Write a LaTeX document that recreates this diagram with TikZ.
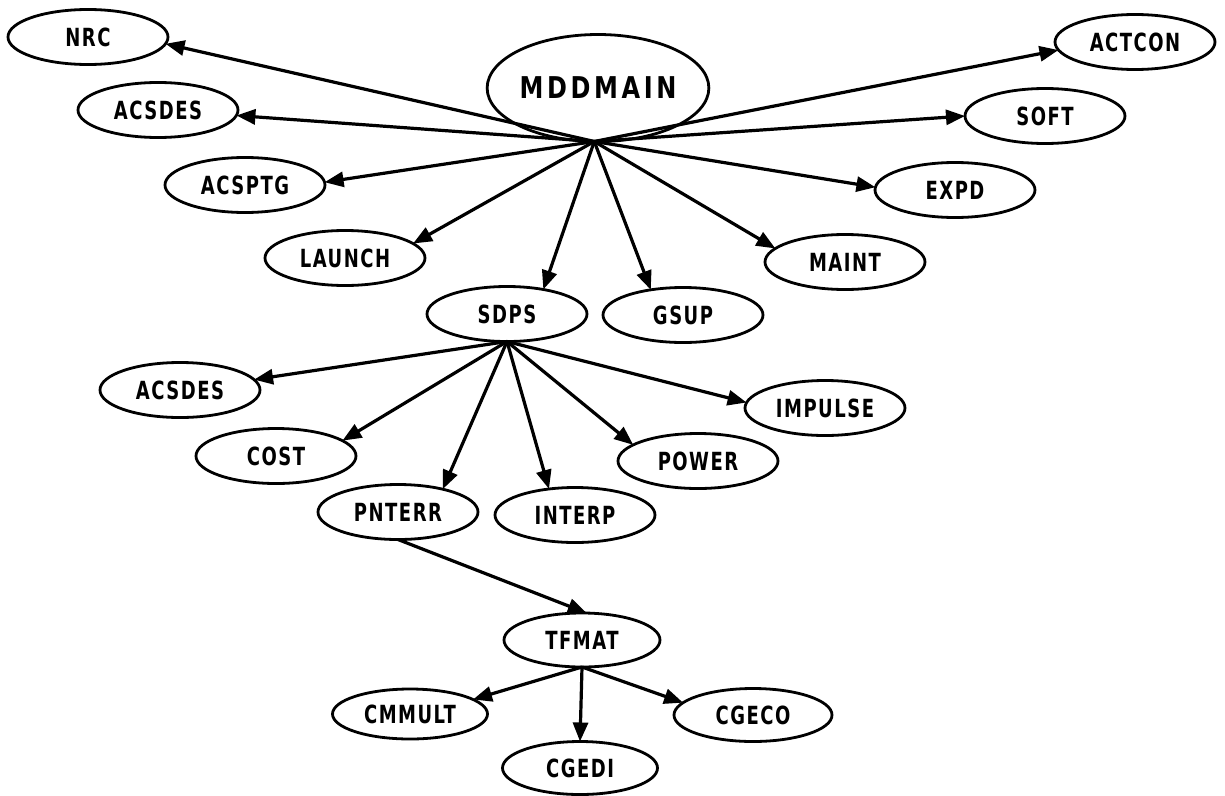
\documentclass[tikz,border=0pt]{standalone}
\usepackage{fontspec}
\newfontfamily\lblfont{DejaVu Sans}[FakeStretch=0.72,LetterSpace=6]
\newfontfamily\bigfont{DejaVu Sans}[FakeStretch=0.8,LetterSpace=12]
\usetikzlibrary{shapes.geometric,arrows.meta}
\begin{document}
\begin{tikzpicture}[x=1pt,y=-1pt,
  box/.style={ellipse,draw,line width=2.8pt,minimum width=160pt,minimum height=55pt,inner sep=0pt,outer sep=0pt,font=\lblfont\bfseries\fontsize{25}{27}\selectfont},
  bigbox/.style={box,minimum width=220pt,minimum height=107pt,font=\bigfont\bfseries\fontsize{30}{32}\selectfont},
  link/.style={line width=3.2pt,-{Triangle[length=19pt,width=15pt]}}]
\useasboundingbox (0,0) rectangle (1225,795);
% nodes
\node[bigbox] (mdd) at (598,88) {MDDMAIN};
\node[box] (nrc) at (88,37) {NRC};
\node[box] (acsdesA) at (158,110) {ACSDES};
\node[box] (acsptg) at (245,185) {ACSPTG};
\node[box] (launch) at (345,258) {LAUNCH};
\node[box] (sdps) at (507,314) {SDPS};
\node[box] (gsup) at (683,315) {GSUP};
\node[box] (maint) at (845,262) {MAINT};
\node[box] (expd) at (955,190) {EXPD};
\node[box] (soft) at (1045,116) {SOFT};
\node[box] (actcon) at (1135,42) {ACTCON};
\node[box] (acsdesB) at (180,390) {ACSDES};
\node[box] (cost) at (276,456) {COST};
\node[box] (pnterr) at (398,512) {PNTERR};
\node[box] (interp) at (575,515) {INTERP};
\node[box] (power) at (698,461) {POWER};
\node[box] (impulse) at (825,408) {IMPULSE};
\node[box,minimum width=156pt,minimum height=54pt] (tfmat) at (582,640) {TFMAT};
\node[box,minimum width=155pt,minimum height=50pt] (cmmult) at (410,714) {CMMULT};
\node[box,minimum width=155pt,minimum height=53pt] (cgedi) at (580,768) {CGEDI};
\node[box,minimum width=158pt,minimum height=53pt] (cgeco) at (753,715) {CGECO};
% connectors from MDDMAIN
\draw[link] (mdd.266) -- (nrc.-5);
\draw[link] (mdd.266) -- (acsdesA.-4);
\draw[link] (mdd.266) -- (acsptg.2);
\draw[link] (mdd.266) -- (launch.12);
\draw[link] (mdd.266) -- (sdps.34);
\draw[link] (mdd.266) -- (gsup.142);
\draw[link] (mdd.266) -- (maint.169);
\draw[link] (mdd.266) -- (expd.178);
\draw[link] (mdd.266) -- (soft.180);
\draw[link] (mdd.266) -- (actcon.186);
% connectors from SDPS
\draw[link] (sdps.south) -- (acsdesB.8);
\draw[link] (sdps.south) -- (cost.13);
\draw[link] (sdps.south) -- (pnterr.27);
\draw[link] (sdps.south) -- (interp.135);
\draw[link] (sdps.south) -- (power.166);
\draw[link] (sdps.south) -- (impulse.176);
% PNTERR to TFMAT
\draw[link] (pnterr.south) -- (tfmat.80);
% connectors from TFMAT
\draw[link] (tfmat.south) -- (cmmult.13);
\draw[link] (tfmat.south) -- (cgedi.north);
\draw[link] (tfmat.south) -- (cgeco.170);
\end{tikzpicture}
\end{document}
